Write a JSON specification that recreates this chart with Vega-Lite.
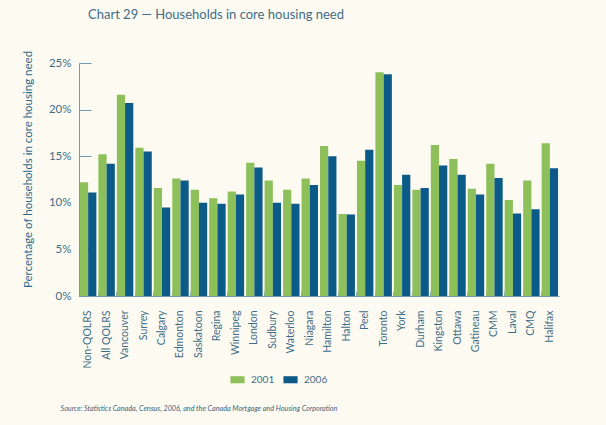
{
  "$schema": "https://vega.github.io/schema/vega-lite/v6.json",
  "autosize": "none",
  "width": 480,
  "height": 233,
  "padding": {"left": 79, "top": 63, "right": 47, "bottom": 129},
  "background": "#fdfbf1",
  "title": {
    "text": "Chart 29 — Households in core housing need",
    "anchor": "start",
    "frame": "group",
    "dx": 9,
    "dy": -4,
    "offset": 23,
    "font": "Lato",
    "fontSize": 13,
    "fontWeight": "normal",
    "color": "#3f6d88"
  },
  "data": {
    "values": [
      {"area": "Non-QOLRS", "year": "2001", "pct": 12.2},
      {"area": "Non-QOLRS", "year": "2006", "pct": 11.1},
      {"area": "All QOLRS", "year": "2001", "pct": 15.2},
      {"area": "All QOLRS", "year": "2006", "pct": 14.2},
      {"area": "Vancouver", "year": "2001", "pct": 21.6},
      {"area": "Vancouver", "year": "2006", "pct": 20.7},
      {"area": "Surrey", "year": "2001", "pct": 15.9},
      {"area": "Surrey", "year": "2006", "pct": 15.5},
      {"area": "Calgary", "year": "2001", "pct": 11.6},
      {"area": "Calgary", "year": "2006", "pct": 9.5},
      {"area": "Edmonton", "year": "2001", "pct": 12.6},
      {"area": "Edmonton", "year": "2006", "pct": 12.4},
      {"area": "Saskatoon", "year": "2001", "pct": 11.4},
      {"area": "Saskatoon", "year": "2006", "pct": 10.0},
      {"area": "Regina", "year": "2001", "pct": 10.5},
      {"area": "Regina", "year": "2006", "pct": 9.9},
      {"area": "Winnipeg", "year": "2001", "pct": 11.2},
      {"area": "Winnipeg", "year": "2006", "pct": 10.9},
      {"area": "London", "year": "2001", "pct": 14.3},
      {"area": "London", "year": "2006", "pct": 13.8},
      {"area": "Sudbury", "year": "2001", "pct": 12.4},
      {"area": "Sudbury", "year": "2006", "pct": 10.0},
      {"area": "Waterloo", "year": "2001", "pct": 11.4},
      {"area": "Waterloo", "year": "2006", "pct": 9.9},
      {"area": "Niagara", "year": "2001", "pct": 12.6},
      {"area": "Niagara", "year": "2006", "pct": 11.9},
      {"area": "Hamilton", "year": "2001", "pct": 16.1},
      {"area": "Hamilton", "year": "2006", "pct": 15.0},
      {"area": "Halton", "year": "2001", "pct": 8.8},
      {"area": "Halton", "year": "2006", "pct": 8.75},
      {"area": "Peel", "year": "2001", "pct": 14.5},
      {"area": "Peel", "year": "2006", "pct": 15.7},
      {"area": "Toronto", "year": "2001", "pct": 24.0},
      {"area": "Toronto", "year": "2006", "pct": 23.8},
      {"area": "York", "year": "2001", "pct": 11.9},
      {"area": "York", "year": "2006", "pct": 13.0},
      {"area": "Durham", "year": "2001", "pct": 11.4},
      {"area": "Durham", "year": "2006", "pct": 11.6},
      {"area": "Kingston", "year": "2001", "pct": 16.2},
      {"area": "Kingston", "year": "2006", "pct": 14.0},
      {"area": "Ottawa", "year": "2001", "pct": 14.7},
      {"area": "Ottawa", "year": "2006", "pct": 13.0},
      {"area": "Gatineau", "year": "2001", "pct": 11.5},
      {"area": "Gatineau", "year": "2006", "pct": 10.9},
      {"area": "CMM", "year": "2001", "pct": 14.2},
      {"area": "CMM", "year": "2006", "pct": 12.65},
      {"area": "Laval", "year": "2001", "pct": 10.3},
      {"area": "Laval", "year": "2006", "pct": 8.85},
      {"area": "CMQ", "year": "2001", "pct": 12.4},
      {"area": "CMQ", "year": "2006", "pct": 9.3},
      {"area": "Halifax", "year": "2001", "pct": 16.4},
      {"area": "Halifax", "year": "2006", "pct": 13.7}
    ]
  },
  "mark": {"type": "bar", "cornerRadius": 0},
  "encoding": {
    "x": {
      "field": "area",
      "type": "nominal",
      "sort": null,
      "scale": {"paddingInner": 0.11, "paddingOuter": 0.05},
      "axis": {
        "title": "Source: Statistics Canada, Census, 2006, and the Canada Mortgage and Housing Corporation",
        "titleFont": "Lato",
        "titleFontStyle": "italic",
        "titleFontWeight": "normal",
        "titleFontSize": 7.2,
        "titleColor": "#3a6680",
        "titleAnchor": "start",
        "titleAlign": "left",
        "titleBaseline": "middle",
        "titleX": -19,
        "titleY": 112,
        "labelAngle": -90,
        "labelFont": "Lato",
        "labelFontSize": 10.5,
        "labelColor": "#3f6d88",
        "labelPadding": 19,
        "bandPosition": 0,
        "tickSize": -5,
        "tickColor": "#8fb0c2",
        "domainColor": "#6f98ae",
        "domainWidth": 1
      }
    },
    "xOffset": {"field": "year", "type": "nominal"},
    "y": {
      "field": "pct",
      "type": "quantitative",
      "scale": {"domain": [0, 25], "nice": false},
      "axis": {
        "title": "Percentage  of households in core housing need",
        "titleFont": "Lato",
        "titleFontSize": 11.5,
        "titleFontWeight": "normal",
        "titleColor": "#2f6a8a",
        "titlePadding": 15,
        "titleY": 106,
        "values": [0, 5, 10, 15, 20, 25],
        "labelExpr": "datum.value + '%'",
        "labelFont": "Lato",
        "labelFontSize": 11.5,
        "labelColor": "#3f6d88",
        "labelPadding": 20,
        "tickSize": -12,
        "tickColor": "#6f98ae",
        "domainColor": "#6f98ae",
        "grid": false
      }
    },
    "color": {
      "field": "year",
      "type": "nominal",
      "scale": {"domain": ["2001", "2006"], "range": ["#8dc05a", "#0b5a87"]},
      "legend": {
        "title": null,
        "orient": "none",
        "direction": "horizontal",
        "legendX": 151,
        "legendY": 309,
        "symbolType": "M-1,-0.5H1V0.5H-1Z",
        "symbolSize": 200,
        "symbolOffset": 0,
        "labelOffset": 6,
        "columnPadding": 8,
        "labelFont": "Lato",
        "labelFontSize": 10,
        "labelColor": "#3f6d88",
        "symbolStrokeWidth": 0
      }
    }
  },
  "config": {
    "view": {"stroke": null}
  }
}
